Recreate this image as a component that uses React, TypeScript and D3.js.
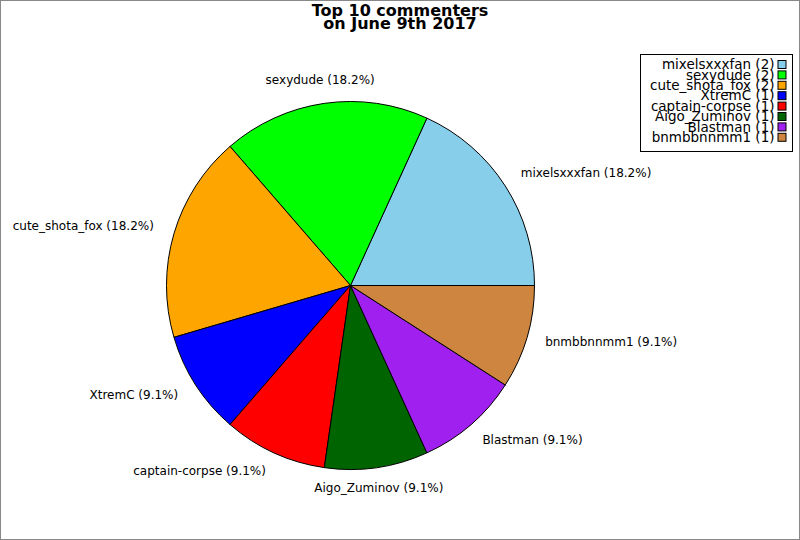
import * as d3 from 'd3'
import { useEffect } from 'react'

const names = [
  'mixelsxxxfan',
  'sexydude',
  'cute_shota_fox',
  'XtremC',
  'captain-corpse',
  'Aigo_Zuminov',
  'Blastman',
  'bnmbbnnmm1',
]
const counts = [2, 2, 2, 1, 1, 1, 1, 1]
const colors = [
  '#87ceeb',
  '#00ff00',
  '#ffa500',
  '#0000ff',
  '#ff0000',
  '#006400',
  '#a020f0',
  '#cd853f',
]
const titleLines = ['Top 10 commenters', 'on June 9th 2017']

const width = 800
const height = 540
const cx = 350.5
const cy = 285.5
const radius = 184
const labelRadius = 206

interface Slice {
  name: string
  count: number
  color: string
}

export default function App() {
  useEffect(() => {
    document.body.style.margin = '0'
  }, [])

  const data: Slice[] = names.map((name, i) => ({
    name,
    count: counts[i],
    color: colors[i],
  }))
  const total = d3.sum(counts)

  // slices go counter-clockwise from 3 o'clock
  const pie = d3
    .pie<Slice>()
    .sort(null)
    .value(d => d.count)
    .startAngle(Math.PI / 2)
    .endAngle(Math.PI / 2 - 2 * Math.PI)
  const arcs = pie(data)
  const arc = d3.arc<d3.PieArcDatum<Slice>>().innerRadius(0).outerRadius(radius)

  const pct = d3.format('.1f')

  return (
    <svg
      width={width}
      height={height}
      style={{ display: 'block', fontFamily: 'DejaVu Sans, sans-serif' }}
    >
      <rect x={0} y={0} width={width} height={height} fill="#fff" />
      <rect
        x={0.5}
        y={0.5}
        width={width - 1}
        height={height - 1}
        fill="none"
        stroke="#888"
      />

      {titleLines.map((t, i) => (
        <text
          key={t}
          x={400}
          y={16 + i * 12.5}
          textAnchor="middle"
          fontSize={16}
          fontWeight="bold"
        >
          {t}
        </text>
      ))}

      <g transform={`translate(${cx},${cy})`}>
        {arcs.map(a => (
          <path
            key={a.data.name}
            d={arc(a) ?? ''}
            fill={a.data.color}
            stroke="#000"
            strokeWidth={1}
          />
        ))}
        {arcs.map(a => {
          const mid = (a.startAngle + a.endAngle) / 2
          const s = Math.sin(mid)
          const anchor = Math.abs(s) < 0.2 ? 'middle' : s > 0 ? 'start' : 'end'
          const shift = anchor === 'start' ? -3 : anchor === 'end' ? 1 : -1
          const x = labelRadius * s + shift
          const y = -labelRadius * Math.cos(mid) - 1
          return (
            <text
              key={a.data.name}
              x={x}
              y={y}
              dy="0.3em"
              textAnchor={anchor}
              fontSize={12}
            >
              {`${a.data.name} (${pct((a.data.count / total) * 100)}%)`}
            </text>
          )
        })}
      </g>

      <g transform="translate(640.5,54.5)">
        <rect width={152} height={97} fill="#fff" stroke="#000" />
        {data.map((d, i) => (
          <g key={d.name} transform={`translate(0,${10 + i * 10.4})`}>
            <text x={134} y={0} dy="0.35em" textAnchor="end" fontSize={13.5}>
              {`${d.name} (${d.count})`}
            </text>
            <rect x={137.5} y={-4} width={8} height={8} fill={d.color} stroke="#000" />
          </g>
        ))}
      </g>
    </svg>
  )
}
